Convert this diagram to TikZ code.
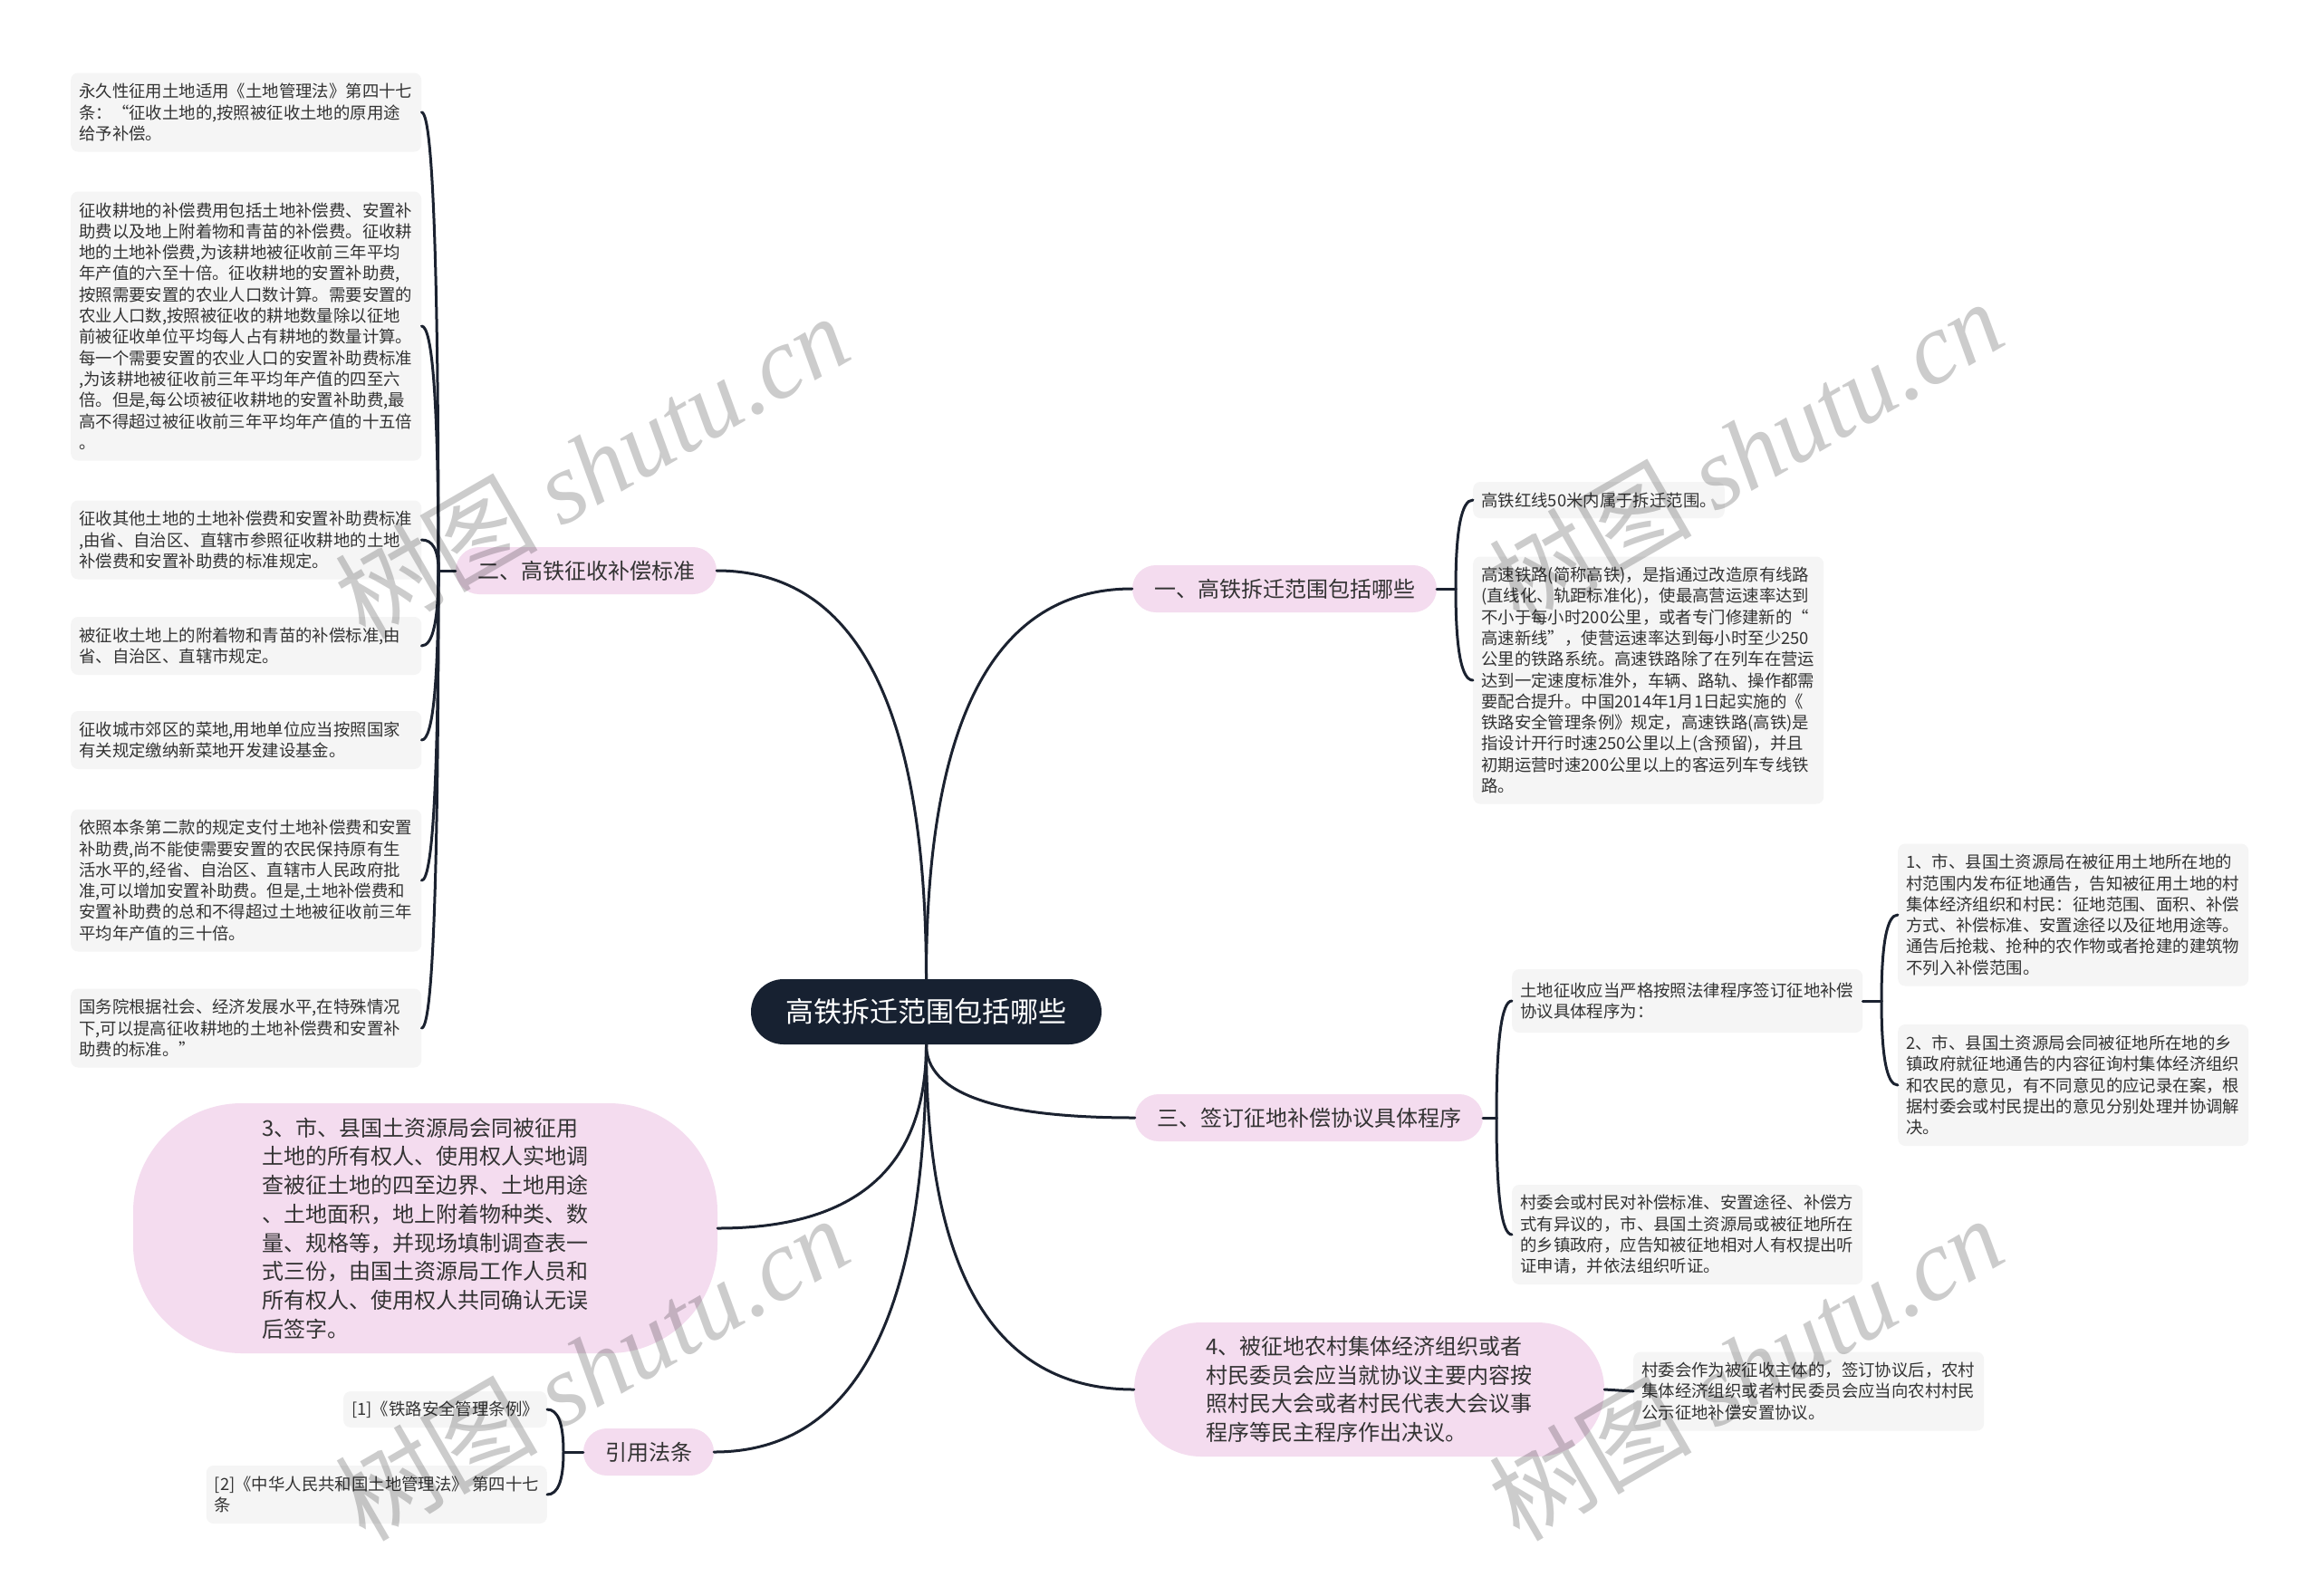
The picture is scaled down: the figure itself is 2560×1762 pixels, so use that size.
\documentclass[tikz,border=0pt]{standalone}
\usepackage{fontspec}
\setmainfont{Noto Sans CJK SC}
\newfontfamily\wmlat{Liberation Serif}
\usetikzlibrary{calc}
\definecolor{pinkfill}{HTML}{F4DCEF}
\definecolor{grayfill}{HTML}{F5F5F5}
\definecolor{rootfill}{HTML}{172131}
\definecolor{linecol}{HTML}{1B2230}
\definecolor{txt}{HTML}{333333}
\newcommand\fbx{\fontsize{18.4pt}{23.3pt}\selectfont}
\newcommand\flv{\fontsize{24pt}{31.7pt}\selectfont}
\newcommand\frt{\fontsize{31pt}{36pt}\selectfont}
\newcommand\fwm{\fontsize{112pt}{120pt}\selectfont}
\newcommand\qedge[2]{\draw[conn] (#1) .. controls ($(#1)!0.6667!(#1 |- #2)$) and ($(#2)!0.6667!(#1 |- #2)$) .. (#2);}
\tikzset{
  conn/.style={draw=linecol, line width=3pt, line cap=round},
  gbox/.style={fill=grayfill, rounded corners=8pt, inner xsep=9pt, inner ysep=2pt, text=txt, font=\fbx, align=left},
  fixw/.style={text width=369pt},
  lone/.style={fill=pinkfill, rounded corners=26pt, minimum height=52pt, inner xsep=24pt, inner ysep=0pt, font=\flv, text=txt},
  bigpill/.style={fill=pinkfill, font=\flv, text=txt, align=left, inner sep=0pt},
  rootnode/.style={fill=rootfill, text=white, rounded corners=36pt, minimum width=387pt, minimum height=72pt, font=\frt},
  wmark/.style={rotate=30, text=black, opacity=0.2, font=\fwm}
}
\begin{document}
\begin{tikzpicture}[x=1pt,y=-1pt]
\fill[white] (0,0) rectangle (2560,1762);
\useasboundingbox (0,0) rectangle (2560,1762);

% root and main branches
\node[rootnode] (root) at (1022.5,1117) {高铁拆迁范围包括哪些};
\node[lone] (n1) at (1418,650) {一、高铁拆迁范围包括哪些};
\node[lone] (n2) at (647,630) {二、高铁征收补偿标准};
\node[lone] (n3) at (1445,1234) {三、签订征地补偿协议具体程序};
\node[bigpill, minimum width=645pt, minimum height=276pt, rounded corners=120pt] (n4) at (469.5,1356) {3、市、县国土资源局会同被征用\\土地的所有权人、使用权人实地调\\查被征土地的四至边界、土地用途\\、土地面积，地上附着物种类、数\\量、规格等，并现场填制调查表一\\式三份，由国土资源局工作人员和\\所有权人、使用权人共同确认无误\\后签字。};
\node[bigpill, minimum width=519pt, minimum height=148pt, rounded corners=74pt] (n5) at (1511.5,1534) {4、被征地农村集体经济组织或者\\村民委员会应当就协议主要内容按\\照村民大会或者村民代表大会议事\\程序等民主程序作出决议。};
\node[lone] (n6) at (716,1603) {引用法条};

% left boxes (二)
\node[gbox,fixw,minimum height=87pt,anchor=west] (L1) at (78,124) {永久性征用土地适用《土地管理法》第四十七\\条：“征收土地的,按照被征收土地的原用途\\给予补偿。};
\node[gbox,fixw,minimum height=297pt,anchor=west] (L2) at (78,360) {征收耕地的补偿费用包括土地补偿费、安置补\\助费以及地上附着物和青苗的补偿费。征收耕\\地的土地补偿费,为该耕地被征收前三年平均\\年产值的六至十倍。征收耕地的安置补助费,\\按照需要安置的农业人口数计算。需要安置的\\农业人口数,按照被征收的耕地数量除以征地\\前被征收单位平均每人占有耕地的数量计算。\\每一个需要安置的农业人口的安置补助费标准\\,为该耕地被征收前三年平均年产值的四至六\\倍。但是,每公顷被征收耕地的安置补助费,最\\高不得超过被征收前三年平均年产值的十五倍\\。};
\node[gbox,fixw,minimum height=87pt,anchor=west] (L3) at (78,596) {征收其他土地的土地补偿费和安置补助费标准\\,由省、自治区、直辖市参照征收耕地的土地\\补偿费和安置补助费的标准规定。};
\node[gbox,fixw,minimum height=64pt,anchor=west] (L4) at (78,713) {被征收土地上的附着物和青苗的补偿标准,由\\省、自治区、直辖市规定。};
\node[gbox,fixw,minimum height=64pt,anchor=west] (L5) at (78,817) {征收城市郊区的菜地,用地单位应当按照国家\\有关规定缴纳新菜地开发建设基金。};
\node[gbox,fixw,minimum height=157pt,anchor=west] (L6) at (78,972) {依照本条第二款的规定支付土地补偿费和安置\\补助费,尚不能使需要安置的农民保持原有生\\活水平的,经省、自治区、直辖市人民政府批\\准,可以增加安置补助费。但是,土地补偿费和\\安置补助费的总和不得超过土地被征收前三年\\平均年产值的三十倍。};
\node[gbox,fixw,minimum height=87pt,anchor=west] (L7) at (78,1135) {国务院根据社会、经济发展水平,在特殊情况\\下,可以提高征收耕地的土地补偿费和安置补\\助费的标准。”};

% right boxes (一)
\node[gbox,minimum height=40pt,anchor=west] (A) at (1626,552) {高铁红线50米内属于拆迁范围。};
\node[gbox,fixw,minimum height=273pt,anchor=west] (B) at (1626,751) {高速铁路(简称高铁)，是指通过改造原有线路\\(直线化、轨距标准化)，使最高营运速率达到\\不小于每小时200公里，或者专门修建新的“\\高速新线”，使营运速率达到每小时至少250\\公里的铁路系统。高速铁路除了在列车在营运\\达到一定速度标准外，车辆、路轨、操作都需\\要配合提升。中国2014年1月1日起实施的《\\铁路安全管理条例》规定，高速铁路(高铁)是\\指设计开行时速250公里以上(含预留)，并且\\初期运营时速200公里以上的客运列车专线铁\\路。};

% 三 boxes
\node[gbox,fixw,minimum height=70pt,anchor=west] (C) at (1669,1105) {土地征收应当严格按照法律程序签订征地补偿\\协议具体程序为：};
\node[gbox,fixw,minimum height=157pt,anchor=west] (D) at (2095,1010) {1、市、县国土资源局在被征用土地所在地的\\村范围内发布征地通告，告知被征用土地的村\\集体经济组织和村民：征地范围、面积、补偿\\方式、补偿标准、安置途径以及征地用途等。\\通告后抢栽、抢种的农作物或者抢建的建筑物\\不列入补偿范围。};
\node[gbox,fixw,minimum height=134pt,anchor=west] (E) at (2095,1198) {2、市、县国土资源局会同被征地所在地的乡\\镇政府就征地通告的内容征询村集体经济组织\\和农民的意见，有不同意见的应记录在案，根\\据村委会或村民提出的意见分别处理并协调解\\决。};
\node[gbox,fixw,minimum height=110pt,anchor=west] (F) at (1669,1363) {村委会或村民对补偿标准、安置途径、补偿方\\式有异议的，市、县国土资源局或被征地所在\\的乡镇政府，应告知被征地相对人有权提出听\\证申请，并依法组织听证。};
\node[gbox,fixw,minimum height=87pt,anchor=west] (G) at (1803,1536) {村委会作为被征收主体的，签订协议后，农村\\集体经济组织或者村民委员会应当向农村村民\\公示征地补偿安置协议。};

% references
\node[gbox,minimum height=40pt,anchor=east] (H) at (604,1556) {[1]《铁路安全管理条例》};
\node[gbox,minimum height=64pt,anchor=east] (I) at (604,1650) {[2]《中华人民共和国土地管理法》~第四十七\\条};

% junctions
\coordinate (j1) at (1607,650);
\coordinate (j2) at (484,630);
\coordinate (j3) at (1652,1234);
\coordinate (jC) at (2077,1105);
\coordinate (j6) at (622,1603);

% root connectors
\qedge{root.north}{n1.west}
\qedge{root.north}{n2.east}
\qedge{root.south}{n3.west}
\qedge{root.south}{n5.west}
\qedge{root.south}{n4.east}
\qedge{root.south}{n6.east}

% brackets
\draw[conn] (n1.east) -- (j1);
\qedge{j1}{A.west}
\qedge{j1}{B.west}
\draw[conn] (n2.west) -- (j2);
\qedge{j2}{L1.east}
\qedge{j2}{L2.east}
\qedge{j2}{L3.east}
\qedge{j2}{L4.east}
\qedge{j2}{L5.east}
\qedge{j2}{L6.east}
\qedge{j2}{L7.east}
\draw[conn] (n3.east) -- (j3);
\qedge{j3}{C.west}
\qedge{j3}{F.west}
\draw[conn] (C.east) -- (jC);
\qedge{jC}{D.west}
\qedge{jC}{E.west}
\draw[conn] (n6.west) -- (j6);
\qedge{j6}{H.east}
\qedge{j6}{I.east}
\draw[conn] (n5.east) -- (G.west);

% watermarks
\node[wmark] (wm1) at (653,514) {树图 {\wmlat\itshape shutu.cn}};
\node[wmark] (wm2) at (1927,498) {树图 {\wmlat\itshape shutu.cn}};
\node[wmark] (wm3) at (653,1510) {树图 {\wmlat\itshape shutu.cn}};
\node[wmark] (wm4) at (1927,1510) {树图 {\wmlat\itshape shutu.cn}};
\end{tikzpicture}
\end{document}
